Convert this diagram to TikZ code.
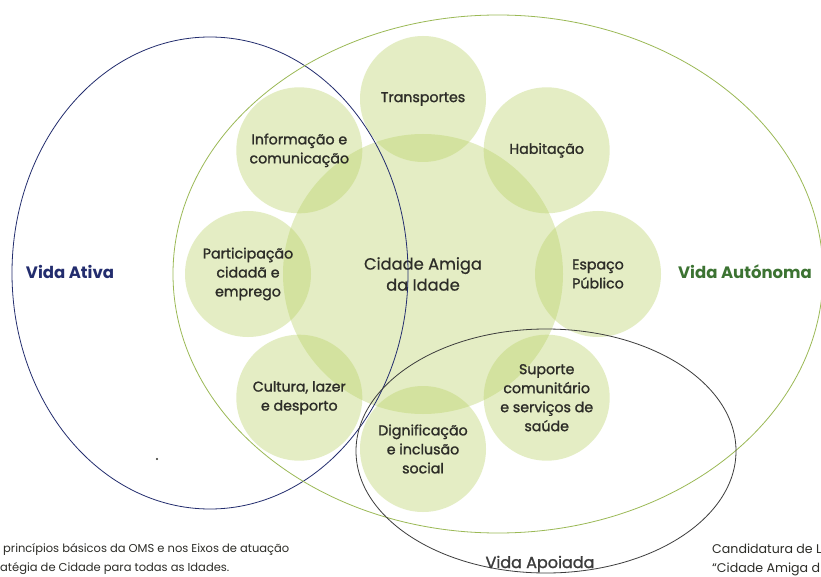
\documentclass[tikz,border=0pt]{standalone}
\usepackage{fontspec}
\setmainfont{Poppins}
\newfontfamily\medfont{Poppins}[FakeBold=1.4]
\newfontfamily\lightmed{Poppins}[FakeBold=0.7]
\definecolor{petal}{RGB}{185,210,100}
\definecolor{navyc}{RGB}{35,45,110}
\definecolor{olivec}{RGB}{155,185,85}
\definecolor{vagreen}{RGB}{60,115,50}
\definecolor{darkg}{RGB}{60,60,60}
\definecolor{txtc}{RGB}{45,45,40}
\tikzset{
  petalc/.style={circle, minimum size=126pt, inner sep=0pt, fill=petal, fill opacity=0.38, text opacity=1,
    text=txtc, align=center, font=\medfont\fontsize{14.2}{19}\selectfont},
  centerc/.style={circle, minimum size=280pt, inner sep=0pt, fill=petal, fill opacity=0.38, text opacity=1,
    text=txtc, align=center, font=\lightmed\fontsize{16.3}{21}\selectfont},
  ring/.style={line width=0.8pt},
  vidalabel/.style={font=\bfseries\fontsize{16.5}{20}\selectfont},
  foot/.style={anchor=west, text=txtc, font=\fontsize{11.5}{13}\selectfont, inner sep=0pt},
  footr/.style={anchor=west, text=txtc, font=\fontsize{12.6}{14}\selectfont, inner sep=0pt}
}
\begin{document}
\begin{tikzpicture}[x=1pt,y=-1pt]
\useasboundingbox (0,0) rectangle (821,577);
\clip (0,0) rectangle (821,577);
\fill[white] (0,0) rectangle (821,577);
% central circle and petals
\node[centerc] (c) at (423,274) {Cidade Amiga\\da Idade};
\node[petalc] (tr) at (423,99) {Transportes};
\node[petalc] (hab) at (546.7,150.3) {Habitação};
\node[petalc] (esp) at (598,274) {Espaço\\Público};
\node[petalc] (sup) at (546.7,397.7) {Suporte\\comunitário\\e serviços de\\saúde};
\node[petalc] (dig) at (423,449) {Dignificação\\e inclusão\\social};
\node[petalc] (cul) at (299.3,397.7) {Cultura, lazer\\e desporto};
\node[petalc] (par) at (248,274) {Participação\\cidadã e\\emprego};
\node[petalc] (inf) at (299.3,150.3) {Informação e\\comunicação};
% big ellipses
\draw[ring, navyc] (210,273) ellipse [x radius=198, y radius=236];
\draw[ring, olivec] (498,274) ellipse [x radius=325, y radius=259];
\draw[ring, darkg] (546,451) ellipse [x radius=190, y radius=122];
% labels
\node[vidalabel, text=navyc] (va) at (70,272) {Vida Ativa};
\node[vidalabel, text=vagreen] (vau) at (745,272) {Vida Autónoma};
\node[text=darkg, font=\medfont\fontsize{16}{20}\selectfont] (vap) at (540,564) {Vida Apoiada};
% speck
\fill[txtc] (157,459) circle (1.2);
% footers
\node[foot] (f1) at (3,549) {princípios básicos da OMS e nos Eixos de atuação};
\node[foot] (f2) at (0,569) {atégia de Cidade para todas as Idades.};
\node[footr] (f3) at (712,549) {Candidatura de L};
\node[footr] (f4) at (712,569) {“Cidade Amiga d};
\end{tikzpicture}
\end{document}
